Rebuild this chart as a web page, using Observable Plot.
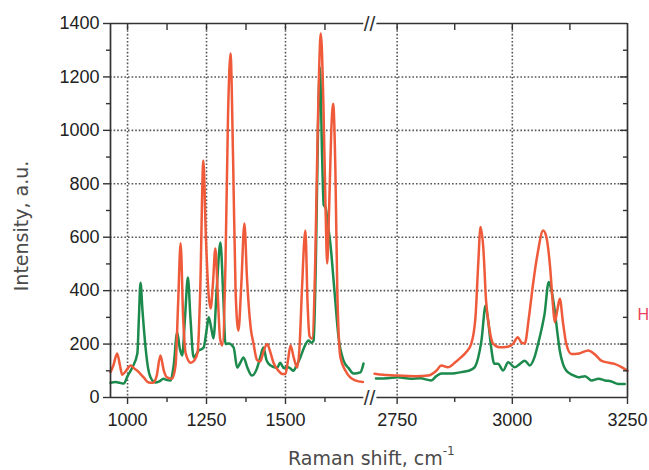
<!DOCTYPE html>
<html>
<head>
<meta charset="utf-8">
<script src="https://cdn.jsdelivr.net/npm/d3@7"></script>
<script src="https://cdn.jsdelivr.net/npm/@observablehq/plot@0.6"></script>
<style>
  html, body { margin: 0; padding: 0; background: #fff; }
</style>
</head>
<body>
<div id="chart"></div>
<script>
// ---- Data ----
// Fingerprint region (left panel)
const redLowWn = [946,955,967,976,983,995,1010,1020,1031,1051,1067,1080,1092,1104,1115,1125,1141,1152,1160,1168,1176,1184,1200,1212,1222,1230,1240,1248,1257,1263,1270,1278,1285,1293,1300,1310,1318,1326,1334,1342,1351,1360,1370,1378,1390,1399,1410,1420,1430,1442,1452,1462,1478,1490,1500,1508,1516,1526,1537,1545,1552,1563,1570,1576,1584,1594,1602,1612,1620,1627,1632,1638,1645,1651,1658,1664,1674,1690,1705,1721,1745];
const redLowI  = [95,120,165,120,85,100,120,110,100,75,56,55,80,157,100,75,70,120,350,577,300,165,130,140,170,400,887,600,380,333,420,558,400,220,195,500,1050,1288,900,400,250,420,651,450,260,200,140,135,170,200,170,130,100,88,88,140,195,150,112,200,400,625,350,230,220,500,1000,1363,1100,700,502,700,1000,1100,850,400,150,100,75,64,58];
const greenLowWn = [946,962,975,988,1000,1015,1031,1036,1041,1047,1057,1065,1073,1089,1100,1114,1125,1136,1146,1157,1166,1173,1182,1191,1199,1209,1217,1225,1233,1241,1250,1257,1265,1272,1283,1294,1303,1310,1320,1336,1347,1357,1367,1380,1394,1410,1420,1430,1440,1446,1460,1474,1483,1495,1505,1516,1525,1535,1547,1560,1573,1582,1589,1596,1603,1609,1616,1621,1627,1634,1642,1655,1668,1684,1700,1715,1730,1737,1747];
const greenLowI  = [55,58,55,52,80,112,165,300,430,330,187,110,75,56,60,70,65,64,120,243,180,157,300,449,300,150,160,176,180,187,250,300,260,221,420,580,380,200,202,187,112,130,150,110,82,110,150,187,140,127,115,112,130,110,115,108,100,120,150,190,213,205,213,500,1000,1236,900,720,711,650,577,400,225,138,110,90,92,94,127];
// C-H stretching region (right panel)
const redHighWn = [2701,2720,2751,2790,2817,2835,2846,2860,2875,2889,2900,2911,2920,2926,2931,2937,2943,2950,2958,2972,2990,3002,3012,3020,3027,3036,3045,3055,3067,3074,3082,3088,3092,3098,3103,3110,3117,3128,3145,3165,3180,3193,3210,3222,3236,3250];
const redHighI  = [89,85,82,80,82,100,120,113,130,151,170,202,300,500,638,560,363,260,202,188,190,202,226,205,202,300,425,540,625,600,488,350,282,330,370,280,202,163,165,176,160,138,130,126,115,100];
const greenHighWn = [2704,2730,2751,2780,2800,2824,2835,2846,2870,2889,2905,2918,2926,2933,2942,2948,2954,2961,2969,2980,2991,3005,3016,3027,3038,3048,3056,3064,3070,3079,3085,3092,3098,3103,3110,3117,3130,3143,3158,3172,3187,3201,3215,3230,3244];
const greenHighI  = [71,72,76,70,72,64,80,90,90,95,100,113,150,213,344,280,188,126,126,101,132,113,125,138,120,150,201,260,313,432,400,326,240,176,125,101,85,76,80,64,70,64,60,51,51];

// Axis ticks and labels
const xMajorTicks = [1000, 1250, 1500, 2750, 3000, 3250];
const xMinorTicks = [1125, 1375, 1625, 2875, 3125];
const xTopTicks   = [1000, 1125, 1250, 1375, 1500, 1625, 2750, 2875, 3000, 3125];
const xGridTicks  = [1000, 1250, 1500, 2750, 3000];
const yMajorTicks = [0, 200, 400, 600, 800, 1000, 1200, 1400];
const yMinorTicks = [100, 300, 500, 700, 900, 1100, 1300];
const yGridTicks  = [200, 400, 600, 800, 1000, 1200];
const xDomain = [946, 1766, 2690, 3250];   // broken axis: two pieces
const yDomain = [0, 1400];
const xLabel = "Raman shift, cm";
const xLabelSup = "-1";
const yLabel = "Intensity, a.u.";
const sideLabel = "H";

// ---- Build tables ----
function rows(wn, vals, seg) { return wn.map((w, i) => ({wn: w, i: vals[i], seg})); }
const redRows = [...rows(redLowWn, redLowI, "low"), ...rows(redHighWn, redHighI, "high")];
const greenRows = [...rows(greenLowWn, greenLowI, "low"), ...rows(greenHighWn, greenHighI, "high")];
const frameRows = [
  {y: yDomain[0], x1: xDomain[0], x2: 1748}, {y: yDomain[0], x1: 2706, x2: xDomain[3]},
  {y: yDomain[1], x1: xDomain[0], x2: 1748}, {y: yDomain[1], x1: 2706, x2: xDomain[3]}
];

const RED = "#ef5a3a", GREEN = "#1b8a4c", AX = "#333";
const blank = () => "";

const chart = Plot.plot({
  width: 649,
  height: 470,
  marginLeft: 110,
  marginRight: 22,
  marginTop: 23,
  marginBottom: 73,
  style: {fontFamily: "'Liberation Sans', Arial, sans-serif", background: "#fff", color: "#222"},
  x: {type: "linear", domain: xDomain, range: [110, 369, 369, 627]},
  y: {domain: yDomain},
  marks: [
    Plot.ruleX(xGridTicks, {x: d => d, stroke: "#555", strokeWidth: 1.6, strokeDasharray: "1.6,2"}),
    Plot.ruleY(yGridTicks, {y: d => d, stroke: "#555", strokeWidth: 1.6, strokeDasharray: "1.6,2"}),
    Plot.line(greenRows, {x: "wn", y: "i", z: "seg", stroke: GREEN, strokeWidth: 2.5, curve: "monotone-x"}),
    Plot.line(redRows, {x: "wn", y: "i", z: "seg", stroke: RED, strokeWidth: 2.5, curve: "monotone-x"}),
    // frame with break
    Plot.ruleX([xDomain[0], xDomain[3]], {x: d => d, stroke: AX, strokeWidth: 1.7}),
    Plot.ruleY(frameRows, {y: "y", x1: "x1", x2: "x2", stroke: AX, strokeWidth: 1.7}),
    Plot.text([yDomain[0], yDomain[1]], {x: () => xDomain[1], y: d => d, text: () => "//", fontSize: 21, fill: AX, lineAnchor: "middle", dy: 1}),
    // axes (outward on left/bottom, inward on top/right)
    Plot.axisX(xMajorTicks, {anchor: "bottom", tickSize: 7, tickPadding: 9, fontSize: 18, label: null, tickFormat: d => String(d), stroke: AX, strokeWidth: 1.4}),
    Plot.axisX(xMinorTicks, {anchor: "bottom", tickSize: 5, tickFormat: blank, label: null, stroke: AX, strokeWidth: 1.4}),
    Plot.axisX(xTopTicks, {anchor: "top", tickSize: 6, dy: 6, tickFormat: blank, label: null, stroke: AX, strokeWidth: 1.4}),
    Plot.axisY(yMajorTicks, {anchor: "left", tickSize: 7, tickPadding: 4, fontSize: 18, label: null, tickFormat: d => String(d), stroke: AX, strokeWidth: 1.4}),
    Plot.axisY(yMinorTicks, {anchor: "left", tickSize: 4, tickFormat: blank, label: null, stroke: AX, strokeWidth: 1.4}),
    Plot.axisY(yMajorTicks.slice(1, 7), {anchor: "right", tickSize: 8, dx: -8, tickFormat: blank, label: null, stroke: AX, strokeWidth: 1.4}),
    Plot.axisY(yMinorTicks, {anchor: "right", tickSize: 5, dx: -5, tickFormat: blank, label: null, stroke: AX, strokeWidth: 1.4}),
    Plot.text([sideLabel], {x: () => xDomain[3], y: () => 311, text: d => d, dx: 10, textAnchor: "start", fontSize: 16, fill: "#e8425a", lineAnchor: "middle"})
  ]
});

// Axis titles (real text, with superscript)
const svg = d3.select(chart);
const xt = svg.append("text")
  .attr("x", 288).attr("y", 465)
  .attr("text-anchor", "start")
  .attr("font-family", "'DejaVu Sans', sans-serif")
  .attr("font-size", 19)
  .attr("fill", "#4a4a4a")
  .text(xLabel);
xt.append("tspan").attr("dy", -10).attr("font-size", 12).text(xLabelSup);
svg.append("text")
  .attr("transform", "translate(28,226) rotate(-90)")
  .attr("text-anchor", "middle")
  .attr("font-family", "'DejaVu Sans', sans-serif")
  .attr("font-size", 19)
  .attr("fill", "#4a4a4a")
  .text(yLabel);

document.getElementById("chart").appendChild(chart);
</script>
</body>
</html>
